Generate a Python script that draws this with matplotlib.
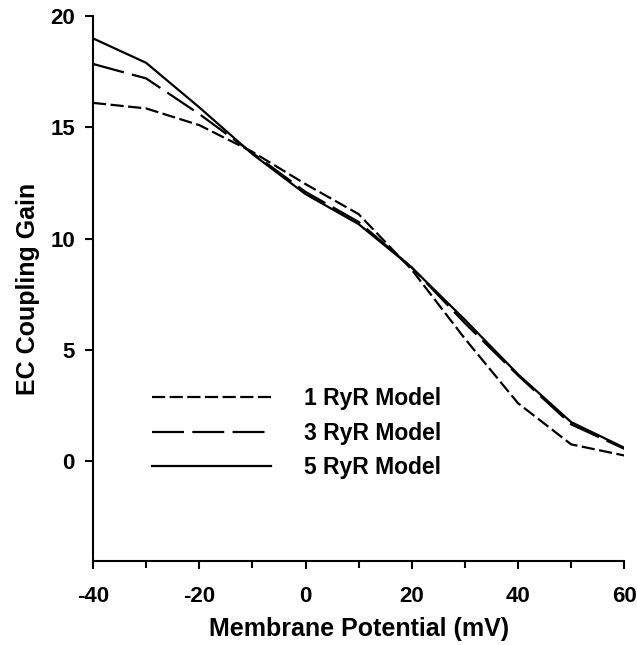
import numpy as np
from matplotlib import pyplot as plt

plt.rcParams['font.family'] = ['Liberation Sans', 'DejaVu Sans']
plt.rcParams['font.weight'] = 'bold'
plt.rcParams['axes.unicode_minus'] = False
plt.rcParams['lines.scale_dashes'] = False

# membrane potential (mV)
voltage = [-40, -30, -20, -10, 0, 10, 20, 30, 40, 50, 60]
# EC coupling gain per model
gain_1ryr = [16.1, 15.85, 15.1, 13.9, 12.45, 11.1, 8.6, 5.5, 2.6, 0.75, 0.25]
gain_3ryr = [17.85, 17.2, 15.6, 13.85, 12.1, 10.75, 8.7, 6.2, 3.85, 1.65, 0.55]
gain_5ryr = [19.0, 17.9, 15.9, 13.8, 12.0, 10.65, 8.7, 6.35, 3.9, 1.75, 0.6]

fig = plt.figure(figsize=(6.37, 6.45), dpi=100)
ax = fig.add_axes([0.146, 0.130, 0.834, 0.845])

ax.plot(voltage, gain_1ryr, color='black', lw=1.6, linestyle=(0, (9.5, 3.2)), label='1 RyR Model')
ax.plot(voltage, gain_3ryr, color='black', lw=1.6, linestyle=(0, (23, 6)), label='3 RyR Model')
ax.plot(voltage, gain_5ryr, color='black', lw=1.6, linestyle='-', label='5 RyR Model')

ax.set_xlim(-40, 60)
ax.set_ylim(-4.5, 20)
ax.set_xticks([-40, -20, 0, 20, 40, 60])
ax.set_xticks([-30, -10, 10, 30, 50], minor=True)
ax.set_yticks([0, 5, 10, 15, 20])

for s in ['top', 'right']:
    ax.spines[s].set_visible(False)
for s in ['left', 'bottom']:
    ax.spines[s].set_linewidth(1.5)
ax.tick_params(which='both', direction='out', width=1.5, labelsize=16)
ax.tick_params(which='major', length=6)
ax.tick_params(which='minor', length=5)
ax.tick_params(axis='y', pad=7)
ax.tick_params(axis='x', pad=12)

ax.set_xlabel('Membrane Potential (mV)', fontsize=18, fontweight='bold', labelpad=7)
ax.set_ylabel('EC Coupling Gain', fontsize=18, fontweight='bold', labelpad=7)

ax.legend(loc='center left', bbox_to_anchor=(0.111, 0.235), frameon=False, fontsize=16.5,
          handlelength=5.2, handletextpad=1.45, labelspacing=0.5,
          borderpad=0, borderaxespad=0)

plt.savefig('out.png', dpi=100)
